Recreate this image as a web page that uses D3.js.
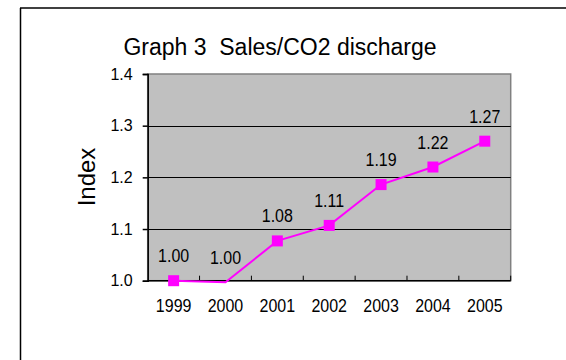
<!DOCTYPE html>
<html><head><meta charset="utf-8">
<script src="https://cdn.jsdelivr.net/npm/d3@7"></script>
<style>
html,body{margin:0;padding:0;background:#fff;}
svg{display:block;}
text{fill:#000;}
</style></head>
<body>
<svg id="chart" width="566" height="360"></svg>
<script>
const years = ["1999","2000","2001","2002","2003","2004","2005"];
const values = [1.0, 0.997, 1.077, 1.107, 1.186, 1.220, 1.270];
const valueLabels = ["1.00","1.00","1.08","1.11","1.19","1.22","1.27"];
const markerShown = [true,false,true,true,true,true,true];
const yTicks = [1.0, 1.1, 1.2, 1.3, 1.4];
const title = "Graph 3\u00a0\u00a0Sales/CO2 discharge";
const yTitle = "Index";

const svg = d3.select("#chart");
const W = 566, H = 360;
const plot = {left: 147.7, top: 74, right: 510.7, bottom: 280.7};
const FONT = "Liberation Sans, Arial, sans-serif";

// outer frame
svg.append("line").attr("x1", 20).attr("y1", 8).attr("x2", W).attr("y2", 8)
  .attr("stroke", "#000").attr("stroke-width", 1.5);
svg.append("line").attr("x1", 20.5).attr("y1", 8).attr("x2", 20.5).attr("y2", H)
  .attr("stroke", "#000").attr("stroke-width", 1.5);

const x = d3.scaleBand().domain(years).range([plot.left, plot.right]).padding(0);
const y = d3.scaleLinear().domain([1.0, 1.4]).range([plot.bottom, plot.top]);

// plot background
svg.append("rect").attr("x", plot.left).attr("y", plot.top)
  .attr("width", plot.right - plot.left).attr("height", plot.bottom - plot.top)
  .attr("fill", "#C0C0C0").attr("stroke", "#808080").attr("stroke-width", 1.5);

// gridlines
svg.append("g").selectAll("line").data(yTicks.filter(d => d > 1.0 && d < 1.4)).join("line")
  .attr("x1", plot.left).attr("x2", plot.right)
  .attr("y1", d => Math.round(y(d)) + 0.5).attr("y2", d => Math.round(y(d)) + 0.5)
  .attr("stroke", "#000").attr("stroke-width", 1);

// y axis
const yAxis = d3.axisLeft(y).tickValues(yTicks).tickFormat(d3.format(".1f")).tickSize(5).tickPadding(10);
const gy = svg.append("g").attr("transform", `translate(${plot.left},0)`).call(yAxis);
gy.select(".domain").attr("stroke", "#000").attr("stroke-width", 1.5);
gy.selectAll(".tick line").attr("stroke", "#000").attr("stroke-width", 1.5);
gy.selectAll(".tick text").attr("font-family", FONT)
  .attr("font-size", 16).attr("fill", "#000");

// x axis (ticks at band boundaries, pointing inward)
svg.append("line").attr("x1", plot.left).attr("x2", plot.right)
  .attr("y1", plot.bottom).attr("y2", plot.bottom).attr("stroke", "#000").attr("stroke-width", 1.5);
svg.append("g").selectAll("line").data(years).join("line")
  .attr("x1", d => x(d) + x.step())
  .attr("x2", d => x(d) + x.step())
  .attr("y1", plot.bottom).attr("y2", plot.bottom - 5)
  .attr("stroke", "#000").attr("stroke-width", 1);
svg.append("g").selectAll("text").data(years).join("text")
  .attr("text-anchor", "middle")
  .attr("font-family", FONT).attr("font-size", 16)
  .attr("transform", d => `translate(${x(d) + x.bandwidth() / 2},312) scale(1,1.12)`)
  .text(d => d);

// line
const pts = years.map((yr, i) => ({yr, v: values[i], label: valueLabels[i], m: markerShown[i]}));
svg.append("path").datum(pts)
  .attr("d", d3.line().x(d => x(d.yr) + x.bandwidth() / 2).y(d => y(d.v)))
  .attr("fill", "none").attr("stroke", "#FF00FF").attr("stroke-width", 2);

// markers
const ms = 11;
svg.append("g").selectAll("rect").data(pts.filter(d => d.m)).join("rect")
  .attr("x", d => x(d.yr) + x.bandwidth() / 2 - ms / 2)
  .attr("y", d => y(d.v) - ms / 2)
  .attr("width", ms).attr("height", ms).attr("fill", "#FF00FF");

// value labels
svg.append("g").selectAll("text").data(pts).join("text")
  .attr("text-anchor", "middle")
  .attr("font-family", FONT).attr("font-size", 16)
  .attr("transform", d => `translate(${x(d.yr) + x.bandwidth() / 2},${y(d.v) - 18.5}) scale(1,1.12)`)
  .text(d => d.label);

// title
svg.append("text").attr("x", 280).attr("y", 55).attr("text-anchor", "middle")
  .attr("font-family", FONT).attr("font-size", 23)
  .text(title);

// y title
svg.append("text").attr("transform", "translate(95,177) rotate(-90)")
  .attr("text-anchor", "middle")
  .attr("font-family", FONT).attr("font-size", 24)
  .text(yTitle);
</script>
</body></html>
